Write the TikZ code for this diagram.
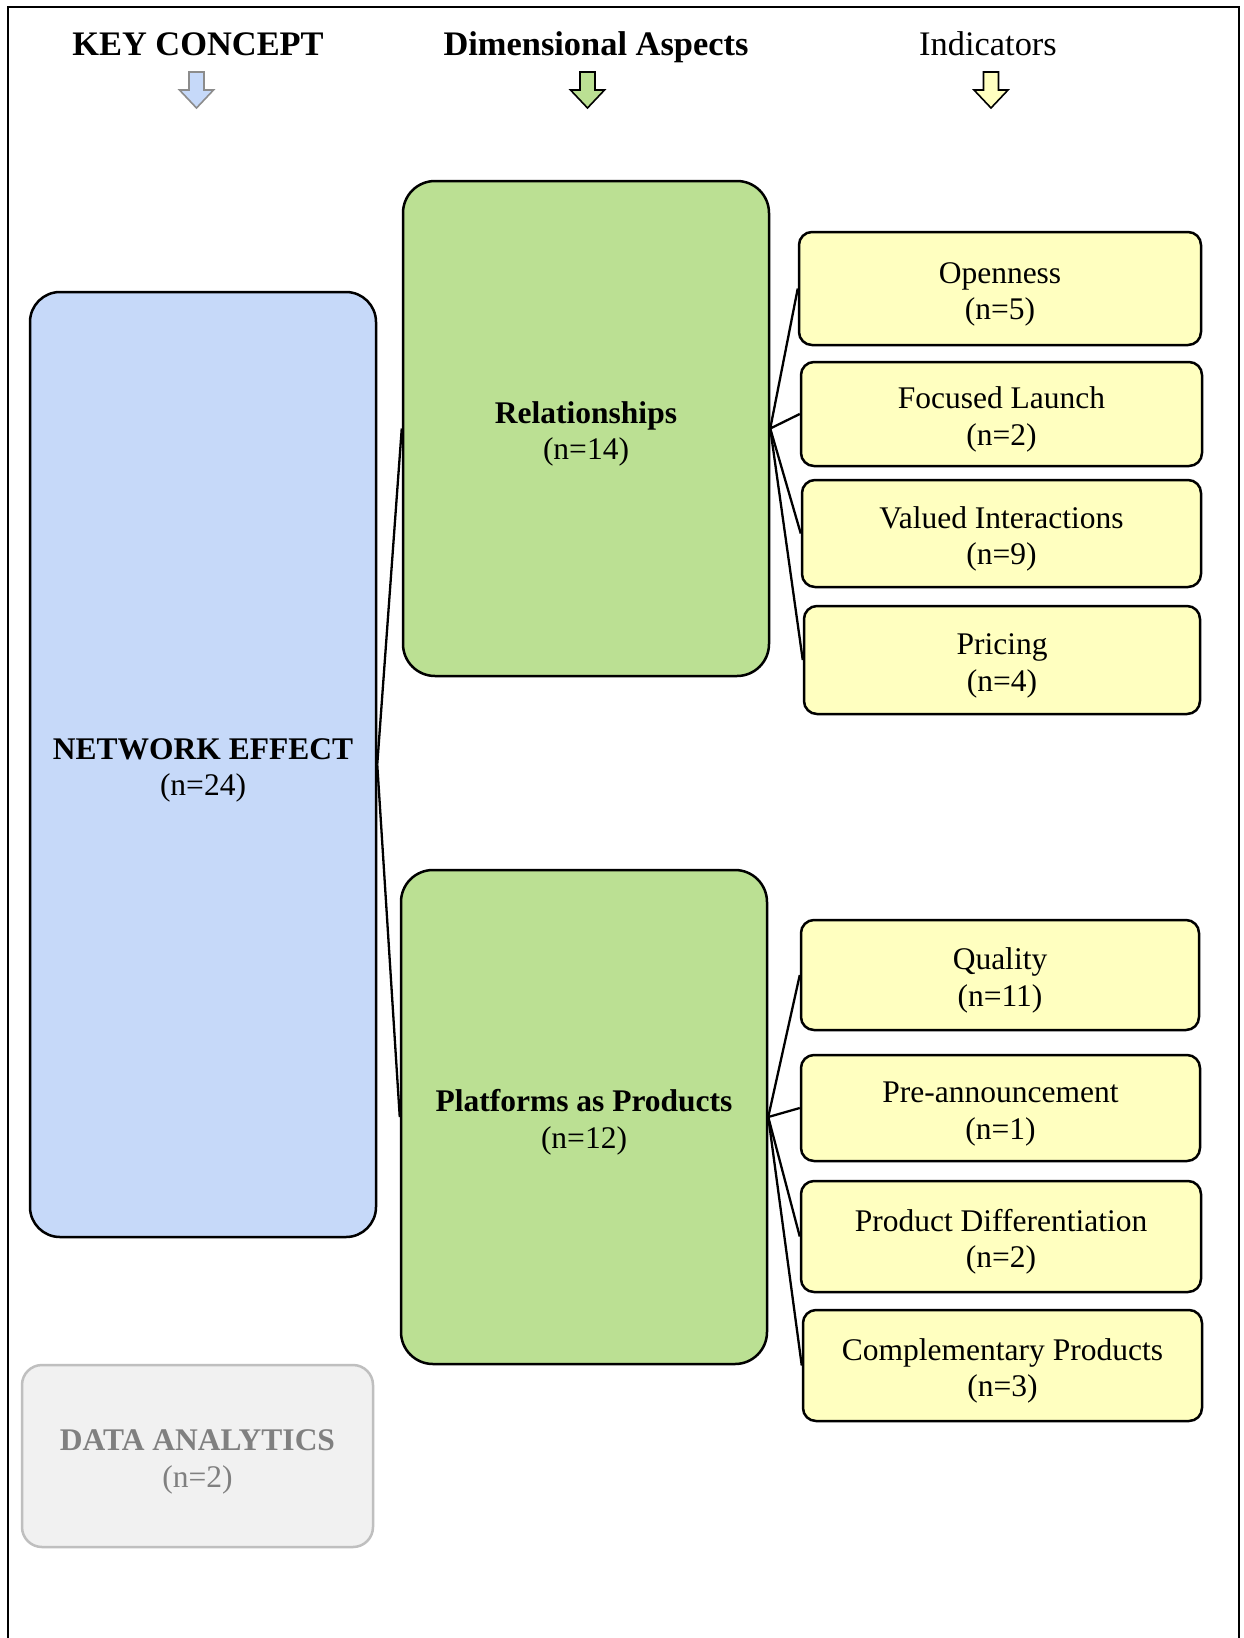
\documentclass[tikz,border=0pt]{standalone}
\usepackage{fontspec}
\setmainfont{Liberation Serif}
\definecolor{bluefill}{RGB}{198,217,249}
\definecolor{greenfill}{RGB}{187,224,147}
\definecolor{yellowfill}{RGB}{255,255,192}
\definecolor{grayfill}{RGB}{241,241,241}
\definecolor{graystroke}{RGB}{191,191,191}
\definecolor{graytext}{RGB}{128,128,128}
\definecolor{arrowgray}{RGB}{140,140,140}
\newcommand\downarr[3]{%
  \draw[line width=1.6pt,draw=#3,fill=#2,line join=miter]
    (#1-7.5,72) -- (#1+7.5,72) -- (#1+7.5,90) -- (#1+17,90) -- (#1,108)
    -- (#1-17,90) -- (#1-7.5,90) -- cycle;}
\begin{document}
\begin{tikzpicture}[x=1pt,y=-1pt,
  boxtext/.style={font=\fontsize{31.5}{36.5}\selectfont,align=center,inner sep=0pt,
    text height=68pt,text depth=5.6pt},
  headtext/.style={font=\fontsize{34.4}{40}\selectfont,anchor=base,inner sep=0pt},
  bluebox/.style={boxtext,draw=black,line width=2.5pt,fill=bluefill,rounded corners=30pt},
  greenbox/.style={boxtext,draw=black,line width=2.5pt,fill=greenfill,rounded corners=32pt},
  yellowbox/.style={boxtext,draw=black,line width=2.5pt,fill=yellowfill,rounded corners=13pt},
  graybox/.style={boxtext,draw=graystroke,line width=2.5pt,fill=grayfill,rounded corners=20pt,text=graytext},
  link/.style={line width=2.3pt,draw=black}]
\useasboundingbox (0,0) rectangle (1244,1638);
\fill[white] (0,0) rectangle (1244,1638);
\draw[line width=2pt] (8,1640) -- (8,7) -- (1239,7) -- (1239,1640);

% headers
\node[headtext] (hkey) at (198,55) {\textbf{KEY CONCEPT}};
\node[headtext] (hdim) at (596,55) {\textbf{Dimensional Aspects}};
\node[headtext] (hind) at (988,55) {Indicators};
\downarr{196.5}{bluefill}{arrowgray}
\downarr{587.5}{greenfill}{black}
\downarr{991}{yellowfill}{black}

% key concept
\node[bluebox,minimum width=346pt,minimum height=945pt] (ne) at (203,764.5)
  {\textbf{NETWORK EFFECT}\\(n=24)};
\node[graybox,minimum width=351pt,minimum height=182pt] (da) at (197.5,1456)
  {\textbf{DATA ANALYTICS}\\(n=2)};

% dimensions
\node[greenbox,minimum width=366pt,minimum height=495pt] (rel) at (586,428.5)
  {\textbf{Relationships}\\(n=14)};
\node[greenbox,minimum width=366pt,minimum height=494pt] (pap) at (584,1117)
  {\textbf{Platforms as Products}\\(n=12)};

% indicators
\node[yellowbox,minimum width=402pt,minimum height=113pt] (open) at (1000,288.5) {Openness\\(n=5)};
\node[yellowbox,minimum width=401pt,minimum height=104pt] (focus) at (1001.5,414) {Focused Launch\\(n=2)};
\node[yellowbox,minimum width=399pt,minimum height=107pt] (valued) at (1001.5,533.5) {Valued Interactions\\(n=9)};
\node[yellowbox,minimum width=396pt,minimum height=108pt] (pricing) at (1002,660) {Pricing\\(n=4)};
\node[yellowbox,minimum width=398pt,minimum height=110pt] (quality) at (1000,975) {Quality\\(n=11)};
\node[yellowbox,minimum width=399pt,minimum height=106pt] (pre) at (1000.5,1108) {Pre-announcement\\(n=1)};
\node[yellowbox,minimum width=400pt,minimum height=111pt] (pdiff) at (1001,1236.5) {Product Differentiation\\(n=2)};
\node[yellowbox,minimum width=399pt,minimum height=111pt] (compl) at (1002.5,1365.5) {Complementary Products\\(n=3)};

% connectors
\draw[link] (ne.east) -- (rel.west);
\draw[link] (ne.east) -- (pap.west);
\foreach \t in {open,focus,valued,pricing} \draw[link] (rel.east) -- (\t.west);
\foreach \t in {quality,pre,pdiff,compl} \draw[link] (pap.east) -- (\t.west);
\end{tikzpicture}
\end{document}
